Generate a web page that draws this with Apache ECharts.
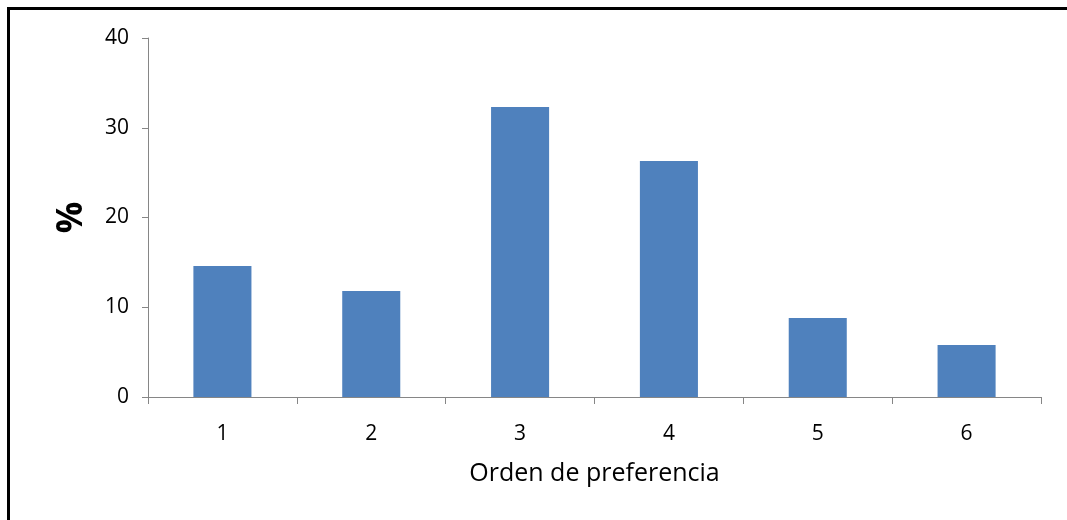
<!DOCTYPE html>
<html>
<head>
<meta charset="utf-8">
<script src="https://cdn.jsdelivr.net/npm/echarts@6/dist/echarts.min.js"></script>
<style>
  html, body { margin: 0; padding: 0; background: #fff; }
  #frame {
    position: absolute; left: 7px; top: 7px; right: 0; bottom: 0;
    border-left: 3px solid #000; border-top: 3px solid #000;
  }
  #chart { width: 1067px; height: 520px; position: absolute; left: 0; top: 0; }
</style>
</head>
<body>
<div id="frame"></div>
<div id="chart"></div>
<script>
const categories = ['1', '2', '3', '4', '5', '6'];
const percentValues = [14.6, 11.8, 32.3, 26.3, 8.8, 5.8];
const yTicks = { min: 0, max: 40, interval: 10 };

const chart = echarts.init(document.getElementById('chart'));
const fontFamily = '"Open Sans", "Liberation Sans", sans-serif';

const option = {
  animation: false,
  grid: { left: 148, right: 26, top: 38, bottom: 123 },
  xAxis: {
    type: 'category',
    data: categories,
    name: 'Orden de preferencia',
    nameLocation: 'middle',
    nameGap: 64,
    nameTextStyle: { fontSize: 25, color: '#000', fontFamily: fontFamily },
    axisLine: { lineStyle: { color: '#868686', width: 1 } },
    axisTick: { show: true, length: 7, alignWithLabel: false, lineStyle: { color: '#868686' } },
    axisLabel: { fontSize: 21, color: '#000', margin: 27, fontFamily: fontFamily }
  },
  yAxis: {
    type: 'value',
    min: yTicks.min,
    max: yTicks.max,
    interval: yTicks.interval,
    name: '%',
    nameLocation: 'middle',
    nameGap: 58,
    nameRotate: 90,
    nameTextStyle: { fontSize: 35, color: '#000', fontWeight: 'bold', fontFamily: fontFamily },
    axisLine: { show: true, lineStyle: { color: '#868686', width: 1 } },
    axisTick: { show: true, length: 6, lineStyle: { color: '#868686' } },
    splitLine: { show: false },
    axisLabel: { fontSize: 21, color: '#000', margin: 19, fontFamily: fontFamily }
  },
  series: [
    {
      type: 'bar',
      data: percentValues,
      barWidth: '39%',
      itemStyle: { color: '#4F81BD' }
    }
  ]
};

chart.setOption(option);
</script>
</body>
</html>
